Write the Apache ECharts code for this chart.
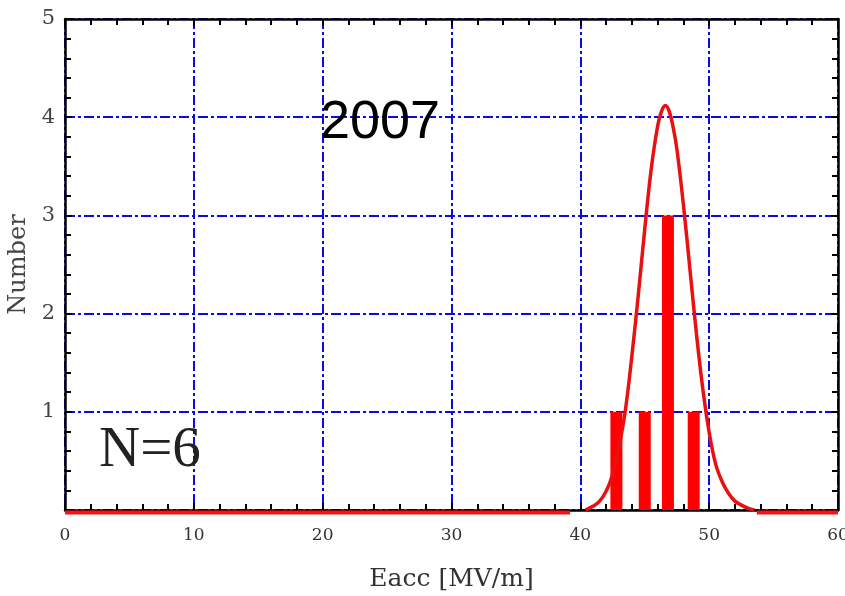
<!DOCTYPE html>
<html>
<head>
<meta charset="utf-8">
<script src="https://cdn.jsdelivr.net/npm/echarts@6/dist/echarts.min.js"></script>
<style>
  html, body { margin: 0; padding: 0; background: #fff; }
  #chart { width: 845px; height: 596px; }
</style>
</head>
<body>
<div id="chart"></div>
<script>
// Histogram of accelerating gradients (cavity count per bin)
const binCenters = [42.8, 45.0, 46.8, 48.8];
const binCounts  = [1, 1, 3, 1];

// Fitted distribution curve (Eacc, Number)
const fitX = [40.4, 41.0, 41.5, 42.0, 42.5, 43.0, 43.5, 44.0, 44.5, 45.0, 45.5, 46.0, 46.3, 46.6, 46.9, 47.2, 47.5, 48.0, 48.5, 49.0, 49.5, 50.0, 50.5, 51.0, 51.5, 52.0, 52.5, 53.0, 53.5];
const fitY = [0.00, 0.04, 0.09, 0.19, 0.36, 0.64, 1.02, 1.57, 2.19, 2.86, 3.47, 3.91, 4.06, 4.12, 4.06, 3.90, 3.67, 3.11, 2.46, 1.81, 1.24, 0.79, 0.47, 0.29, 0.17, 0.09, 0.05, 0.02, 0.00];

// Flat tails of the fit drawn along the base line
const tailLeft  = [0, 39.2];
const tailRight = [53.7, 60];

const xTicks = [0, 10, 20, 30, 40, 50, 60];
const yTicks = [0, 1, 2, 3, 4, 5];

const sampleCount = 'N=6';
const yearLabel = '2007';

const serif = '"DejaVu Serif", "Liberation Serif", serif';
const gridBlue = '#0a0ae6';
const dashDot = [10, 3, 3, 3];

const chart = echarts.init(document.getElementById('chart'), null, { renderer: 'canvas' });

function frameAxis(extra) {
  return Object.assign({
    axisLine: { show: true, onZero: false, lineStyle: { color: '#000', width: 2.5 } },
    axisTick: { show: true, inside: true, length: 7, lineStyle: { color: '#000', width: 2 } },
    minorTick: { show: true, splitNumber: 5, length: 6, lineStyle: { color: '#000', width: 2 } },
    splitLine: { show: false },
    axisLabel: { show: false }
  }, extra);
}

const option = {
  animation: false,
  backgroundColor: '#fff',
  grid: { left: 65, right: 7, top: 19, bottom: 86, containLabel: false, outerBoundsMode: 'none' },
  xAxis: [
    frameAxis({
      type: 'value', position: 'bottom', min: xTicks[0], max: xTicks[xTicks.length - 1], interval: 10,
      name: 'Eacc [MV/m]', nameLocation: 'middle', nameGap: 57,
      nameTextStyle: { fontFamily: serif, fontSize: 25, color: '#333' },
      axisLabel: { show: true, margin: 17, fontFamily: serif, fontSize: 17, color: '#333',
        formatter: v => xTicks.includes(v) ? String(v) : '' },
      splitLine: { show: true, lineStyle: { color: gridBlue, width: 2, type: dashDot } }
    }),
    frameAxis({ type: 'value', position: 'top', min: 0, max: 60, interval: 10 })
  ],
  yAxis: [
    frameAxis({
      type: 'value', position: 'left', min: yTicks[0], max: yTicks[yTicks.length - 1], interval: 1,
      name: 'Number', nameLocation: 'middle', nameGap: 33, nameRotate: 90,
      nameTextStyle: { fontFamily: serif, fontSize: 24, color: '#444' },
      axisLabel: { show: true, margin: 10, fontFamily: serif, fontSize: 21, color: '#444',
        formatter: v => (v === 0 ? '' : String(v)) },
      splitLine: { show: true, lineStyle: { color: gridBlue, width: 2, type: dashDot } }
    }),
    frameAxis({ type: 'value', position: 'right', min: 0, max: 5, interval: 1 })
  ],
  graphic: [
    { type: 'text', left: 320, top: 96, z: 100,
      style: { text: yearLabel, font: '54px "Liberation Sans", Arial, sans-serif', fill: '#000' } },
    { type: 'text', left: 99, top: 423, z: 100,
      style: { text: sampleCount, font: '57px "Liberation Serif", serif', fill: '#222' } }
  ],
  series: [
    {
      type: 'bar', xAxisIndex: 0, yAxisIndex: 0, barWidth: 12,
      itemStyle: { color: '#ff0000' },
      data: binCenters.map((x, i) => [x, binCounts[i]]), z: 3
    },
    {
      type: 'line', xAxisIndex: 0, yAxisIndex: 0, smooth: 0.4, symbol: 'none',
      lineStyle: { color: '#e81010', width: 3.5 },
      data: fitX.map((x, i) => [x, fitY[i]]), z: 4
    },
    {
      type: 'line', xAxisIndex: 0, yAxisIndex: 0, symbol: 'none', clip: false,
      lineStyle: { color: '#ff1010', width: 4 },
      data: tailLeft.map(x => [x, -0.025]), z: 1
    },
    {
      type: 'line', xAxisIndex: 0, yAxisIndex: 0, symbol: 'none', clip: false,
      lineStyle: { color: '#ff1010', width: 4 },
      data: tailRight.map(x => [x, -0.025]), z: 1
    }
  ]
};

chart.setOption(option);
</script>
</body>
</html>
